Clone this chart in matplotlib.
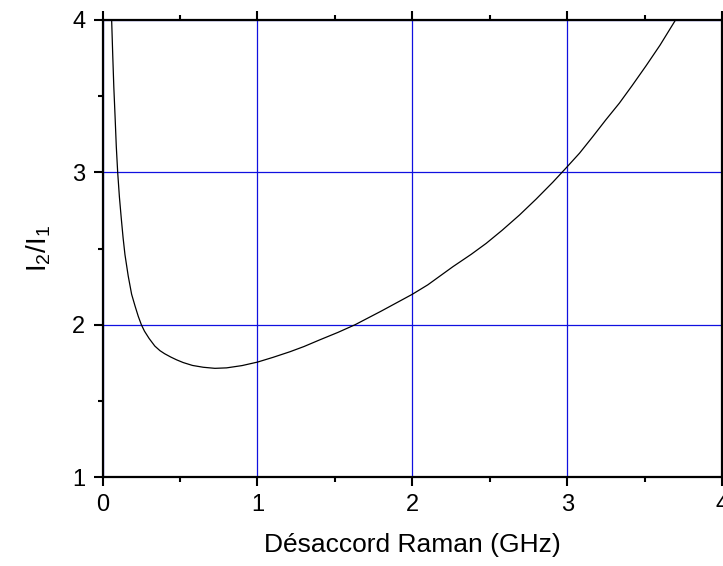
import matplotlib
matplotlib.use("Agg")
import matplotlib.pyplot as plt
from matplotlib.ticker import MultipleLocator

plt.rcParams['font.family'] = ['Liberation Sans', 'DejaVu Sans']
plt.rcParams['mathtext.fontset'] = 'custom'
plt.rcParams['mathtext.rm'] = 'Liberation Sans'
plt.rcParams['mathtext.default'] = 'regular'

# Data
detuning_ghz = [0.058, 0.065, 0.072, 0.08, 0.088, 0.097, 0.108, 0.12, 0.132, 0.144,
                0.165, 0.187, 0.21, 0.23, 0.25, 0.27, 0.30, 0.337, 0.37,
                0.40, 0.44, 0.477, 0.52, 0.58, 0.65, 0.725, 0.80, 0.90, 1.0,
                1.10, 1.21, 1.30, 1.40, 1.52, 1.63, 1.80, 1.90, 2.0, 2.10,
                2.262, 2.38, 2.477, 2.58, 2.692, 2.80, 2.907, 2.994, 3.08,
                3.165, 3.25, 3.337, 3.42, 3.51, 3.60, 3.70]
ratio_i2_i1 = [4.00, 3.77, 3.56, 3.37, 3.17, 3.00, 2.84, 2.70, 2.57, 2.46,
               2.32, 2.20, 2.12, 2.055, 2.00, 1.958, 1.91, 1.86, 1.83,
               1.81, 1.788, 1.77, 1.752, 1.733, 1.721, 1.714, 1.717, 1.732, 1.755,
               1.786, 1.823, 1.857, 1.90, 1.95, 2.00, 2.09, 2.145, 2.20, 2.262,
               2.381, 2.462, 2.534, 2.62, 2.72, 2.825, 2.935, 3.03, 3.126,
               3.234, 3.345, 3.454, 3.57, 3.70, 3.835, 4.00]

x_ticks = [0, 1, 2, 3, 4]
y_ticks = [1, 2, 3, 4]

fig = plt.figure(figsize=(7.23, 5.66), dpi=100)
ax = fig.add_axes([0.142, 0.157, 0.8566, 0.8077])

ax.plot(detuning_ghz, ratio_i2_i1, color='black', lw=0.9, zorder=3)

ax.set_xlim(0, 4)
ax.set_ylim(1, 4)
ax.set_xticks(x_ticks)
ax.set_yticks(y_ticks)
ax.xaxis.set_minor_locator(MultipleLocator(0.5))
ax.yaxis.set_minor_locator(MultipleLocator(0.5))

ax.grid(True, which='major', color='#1010e0', lw=0.9)
ax.set_axisbelow(True)

for s in ax.spines.values():
    s.set_linewidth(1.6)
    s.set_color('black')

ax.tick_params(which='major', direction='out', length=6.5, width=1.5,
               labelsize=17, pad=6, top=True, right=False)
ax.tick_params(which='minor', direction='out', length=3.5, width=1.5,
               top=True, right=False)

ax.set_xlabel('Désaccord Raman (GHz)', fontsize=19, labelpad=12)
ax.set_ylabel(r'I$_2$/I$_1$', fontsize=20, labelpad=14)

fig.savefig('out.png', dpi=100)
